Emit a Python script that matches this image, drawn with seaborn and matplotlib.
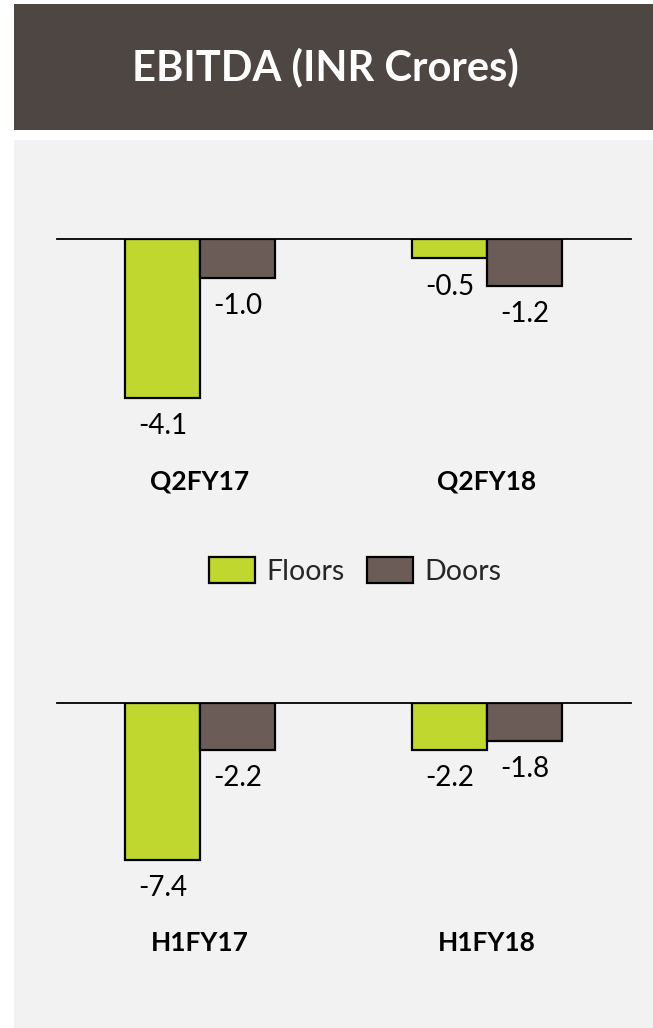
import matplotlib
matplotlib.use("Agg")
import matplotlib.pyplot as plt
from matplotlib.patches import Rectangle, Patch
import seaborn as sns
import pandas as pd

sns.set_theme(style="white")
plt.rcParams["font.family"] = ["Lato", "DejaVu Sans"]

# Data
segments = ["Floors", "Doors"]
quarter_periods = ["Q2FY17", "Q2FY18"]
quarter_floors = [-4.1, -0.5]
quarter_doors = [-1.0, -1.2]
half_periods = ["H1FY17", "H1FY18"]
half_floors = [-7.4, -2.2]
half_doors = [-2.2, -1.8]

title = "EBITDA (INR Crores)"
colors = {"Floors": "#c0d72f", "Doors": "#6b5c57"}
bar_dark = "#4e4643"
panel_bg = "#f2f2f2"

W, H = 653, 1028
fig = plt.figure(figsize=(W / 100, H / 100), dpi=100)
fig.patch.set_facecolor("white")


def fx(px):
    return px / W


def fy(py):
    return 1 - py / H


# Header bar and panel background
fig.patches.append(Rectangle((fx(14), fy(130)), fx(653) - fx(14), fy(4) - fy(130),
                             transform=fig.transFigure, facecolor=bar_dark,
                             edgecolor="none", zorder=-5))
fig.patches.append(Rectangle((fx(14), fy(1028)), fx(653) - fx(14), fy(140) - fy(1028),
                             transform=fig.transFigure, facecolor=panel_bg,
                             edgecolor="none", zorder=-5))
fig.text(fx(325), fy(67), title, color="white", fontsize=30, fontweight="bold",
         ha="center", va="center")


def make_frame(periods, floors, doors):
    return pd.DataFrame({
        "period": periods * 2,
        "segment": ["Floors"] * len(periods) + ["Doors"] * len(periods),
        "value": list(floors) + list(doors),
    })


def draw_panel(top_px, bottom_px, px_per_unit, periods, floors, doors):
    left_px, right_px = 56.5, 630.5
    ax = fig.add_axes([fx(left_px), fy(bottom_px), fx(right_px) - fx(left_px),
                       fy(top_px) - fy(bottom_px)])
    ax.set_zorder(2)
    df = make_frame(periods, floors, doors)
    sns.barplot(data=df, x="period", y="value", hue="segment", hue_order=segments,
                palette=colors, width=0.523, edgecolor="black", linewidth=1.6,
                saturation=1, legend=False, ax=ax)
    ax.set_xlim(-0.5, len(periods) - 0.5)
    ax.set_ylim(-(bottom_px - top_px) / px_per_unit, 0)
    ax.set_facecolor("none")
    for side in ["left", "right", "bottom"]:
        ax.spines[side].set_visible(False)
    ax.spines["top"].set_visible(True)
    ax.spines["top"].set_color("black")
    ax.spines["top"].set_linewidth(1.3)
    ax.spines["top"].set_zorder(5)
    ax.set_yticks([])
    ax.set_xlabel("")
    ax.set_ylabel("")
    ax.tick_params(axis="x", length=0, pad=14)
    for lab in ax.get_xticklabels():
        lab.set_fontweight("bold")
        lab.set_fontsize(19)
        lab.set_color("black")
    for cont in ax.containers:
        ax.bar_label(cont, fmt="%.1f", padding=11, fontsize=20, color="black")
    return ax


draw_panel(239, 450, 38.8, quarter_periods, quarter_floors, quarter_doors)
draw_panel(703, 912, 21.2, half_periods, half_floors, half_doors)

handles = [Patch(facecolor=colors[s], edgecolor="black", linewidth=1.6, label=s)
           for s in segments]
fig.legend(handles=handles, loc="center", bbox_to_anchor=(fx(355), fy(571)),
           ncol=2, frameon=False, fontsize=20.5, handlelength=1.6, handleheight=1.05,
           handletextpad=0.4, columnspacing=0.8)

fig.savefig("out.png", dpi=100, facecolor=fig.get_facecolor())
